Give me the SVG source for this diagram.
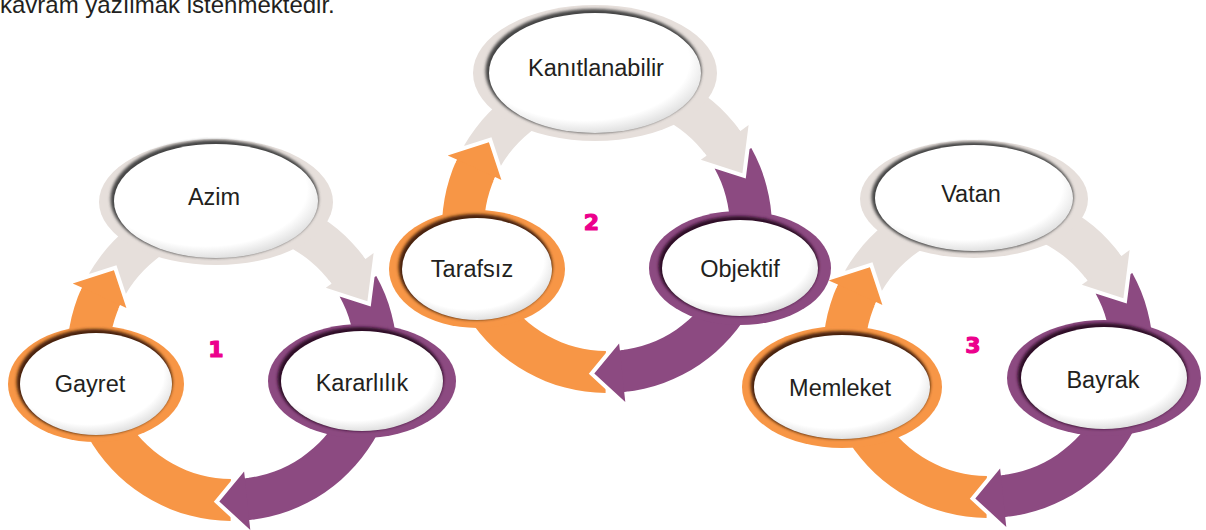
<svg xmlns="http://www.w3.org/2000/svg" width="1206" height="530" viewBox="0 0 1206 530">
<style>
text{font-family:"Liberation Sans",Arial,sans-serif;fill:#231F20}
.lbl{font-size:23.5px;text-anchor:middle}
.top{font-size:24px}
.num{font-family:"DejaVu Sans",sans-serif;font-weight:bold;font-size:22px;fill:#EC008C;stroke:#EC008C;stroke-width:1.2;stroke-linejoin:round;text-anchor:middle}
.o{fill:#F79646}.p{fill:#8C4A81}.g{fill:#E6DFDB}
.hs{fill:none;stroke:#fff;stroke-width:8;stroke-linejoin:miter}
.sh-o{fill:#4A240A}.sh-p{fill:#2E1028}.sh-g{fill:#444}
.in{fill:url(#wg)}
</style>
<defs>
<filter id="bl" x="-20%" y="-20%" width="140%" height="140%"><feGaussianBlur stdDeviation="1.8"/></filter>
<radialGradient id="wg" cx="0.45" cy="0.4" r="0.62"><stop offset="0.8" stop-color="#fff"/><stop offset="1" stop-color="#dcdcdc"/></radialGradient>
<g id="cyc">
<path class="g" d="M -142.9 -82.5 A 165 165 0 0 1 133.5 -97.0 L 141.6 -102.9 L 135.4 -54.7 L 93.8 -68.2 L 99.5 -72.3 A 123 123 0 0 0 -106.5 -61.5 Z"/>
<path class="p" d="M 144.3 -80.0 A 165 165 0 0 1 17.2 164.1 L 18.3 174.0 L -12.7 145.4 L 12.1 115.4 L 12.9 122.3 A 123 123 0 0 0 107.6 -59.6 Z"/>
<path class="o" d="M -1.4 165.0 A 165 165 0 0 1 -150.2 -68.4 L -159.3 -72.6 L -118.1 -85.8 L -105.6 -48.1 L -111.9 -51.0 A 123 123 0 0 0 -1.1 123.0 Z"/>
<path class="hs" d="M 133.5 -97.0 L 141.6 -102.9 L 135.4 -54.7 L 93.8 -68.2 L 99.5 -72.3"/>
<path class="g" d="M 133.5 -97.0 L 141.6 -102.9 L 135.4 -54.7 L 93.8 -68.2 L 99.5 -72.3 Z"/>
<path class="hs" d="M 17.2 164.1 L 18.3 174.0 L -12.7 145.4 L 12.1 115.4 L 12.9 122.3"/>
<path class="p" d="M 17.2 164.1 L 18.3 174.0 L -12.7 145.4 L 12.1 115.4 L 12.9 122.3 Z"/>
<path class="hs" d="M -150.2 -68.4 L -159.3 -72.6 L -118.1 -85.8 L -105.6 -48.1 L -111.9 -51.0"/>
<path class="o" d="M -150.2 -68.4 L -159.3 -72.6 L -118.1 -85.8 L -105.6 -48.1 L -111.9 -51.0 Z"/>
</g>
</defs>
<rect width="1206" height="530" fill="#fff"/>
<text class="top" x="0" y="13">kavram yazılmak istenmektedir.</text>
<g id="connectors">
<use href="#cyc" transform="translate(232,356)"/>
<use href="#cyc" transform="translate(607,228)"/>
<use href="#cyc" transform="translate(988,353)"/>
</g>
<g id="n-azim">
<ellipse class="g" cx="216" cy="202" rx="117" ry="63"/>
<ellipse class="sh-g" cx="214.5" cy="199" rx="104" ry="59" filter="url(#bl)"/>
<ellipse class="in" cx="216" cy="201" rx="102" ry="57"/>
<text class="lbl" x="214" y="205">Azim</text>
</g>
<g id="n-gayret">
<ellipse class="o" cx="96" cy="384" rx="88" ry="58"/>
<ellipse class="sh-o" cx="94.5" cy="382" rx="78" ry="53" filter="url(#bl)"/>
<ellipse class="in" cx="96" cy="384" rx="76" ry="51"/>
<text class="lbl" x="90" y="392">Gayret</text>
</g>
<g id="n-kararlilik">
<ellipse class="p" cx="362" cy="381" rx="94" ry="57"/>
<ellipse class="sh-p" cx="360.5" cy="379" rx="83" ry="52" filter="url(#bl)"/>
<ellipse class="in" cx="362" cy="381" rx="81" ry="50"/>
<text class="lbl" x="362" y="391">Kararlılık</text>
</g>
<text class="num" x="216" y="357">1</text>
<g id="n-kanitlanabilir">
<ellipse class="g" cx="595" cy="73" rx="122" ry="68"/>
<ellipse class="sh-g" cx="593.5" cy="71" rx="108" ry="62" filter="url(#bl)"/>
<ellipse class="in" cx="595" cy="73" rx="106" ry="60"/>
<text class="lbl" x="596" y="76">Kanıtlanabilir</text>
</g>
<g id="n-tarafsiz">
<ellipse class="o" cx="477" cy="269" rx="88" ry="59"/>
<ellipse class="sh-o" cx="475.5" cy="267" rx="77" ry="53" filter="url(#bl)"/>
<ellipse class="in" cx="477" cy="269" rx="75" ry="51"/>
<text class="lbl" x="472" y="277">Tarafsız</text>
</g>
<g id="n-objektif">
<ellipse class="p" cx="740" cy="268" rx="91" ry="57"/>
<ellipse class="sh-p" cx="738.5" cy="266" rx="80" ry="50" filter="url(#bl)"/>
<ellipse class="in" cx="740" cy="268" rx="78" ry="48"/>
<text class="lbl" x="740" y="277">Objektif</text>
</g>
<text class="num" x="591.5" y="230">2</text>
<g id="n-vatan">
<ellipse class="g" cx="974" cy="199" rx="114" ry="59"/>
<ellipse class="sh-g" cx="972.5" cy="197" rx="101" ry="55" filter="url(#bl)"/>
<ellipse class="in" cx="974" cy="198" rx="99" ry="53"/>
<text class="lbl" x="971" y="202">Vatan</text>
</g>
<g id="n-memleket">
<ellipse class="o" cx="842" cy="387" rx="100" ry="61"/>
<ellipse class="sh-o" cx="840.5" cy="385" rx="90" ry="54" filter="url(#bl)"/>
<ellipse class="in" cx="842" cy="387" rx="88" ry="52"/>
<text class="lbl" x="840" y="396">Memleket</text>
</g>
<g id="n-bayrak">
<ellipse class="p" cx="1104" cy="378" rx="97" ry="58"/>
<ellipse class="sh-p" cx="1102.5" cy="376" rx="85" ry="53" filter="url(#bl)"/>
<ellipse class="in" cx="1104" cy="378" rx="83" ry="51"/>
<text class="lbl" x="1103" y="388">Bayrak</text>
</g>
<text class="num" x="973" y="353">3</text>
</svg>
